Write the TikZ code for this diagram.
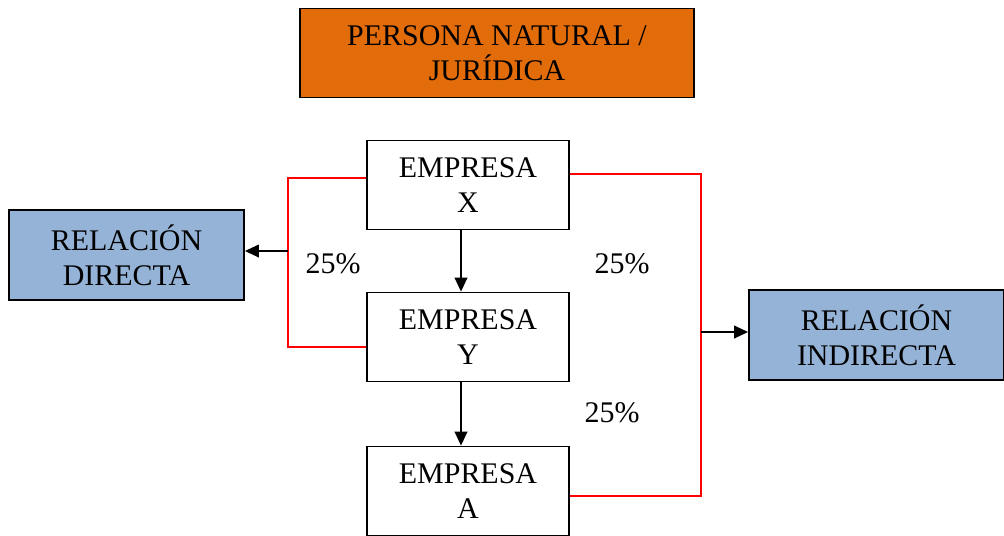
\documentclass[tikz,border=0pt]{standalone}
\usepackage{fontspec}
\setmainfont{Liberation Serif}
\definecolor{naranja}{RGB}{226,107,10}
\definecolor{azulrel}{RGB}{149,179,215}
\definecolor{rojolin}{RGB}{255,0,0}
\usetikzlibrary{arrows.meta,positioning}

\begin{document}
\begin{tikzpicture}[x=0.025cm,y=-0.025cm,
  every node/.style={font=\fontsize{21.3}{25}\selectfont,align=center},
  caja/.style={draw,line width=1.3pt,minimum width=5.05cm,minimum height=2.225cm,inner sep=0pt},
  relbox/.style={draw,line width=1.3pt,fill=azulrel,minimum height=2.25cm,inner sep=0pt},
  rojo/.style={draw=rojolin,line width=1pt},
  flecha/.style={line width=1pt,-{Triangle[length=0.35cm,width=0.32cm]}}]
  \useasboundingbox (0,0) rectangle (1004,535);
  % Top box
  \node[draw,line width=1.3pt,fill=naranja,minimum width=9.85cm,minimum height=2.225cm] (persona) at (497,53) {PERSONA NATURAL /\\JURÍDICA};
  % Companies
  \node[caja] (empx) at (468,185) {EMPRESA\\X};
  \node[caja] (empy) at (468,337) {EMPRESA\\Y};
  \node[caja] (empa) at (468,491) {EMPRESA\\A};
  % Relation boxes
  \node[relbox,minimum width=5.875cm] (directa) at (126.5,255) {RELACIÓN\\DIRECTA};
  \node[relbox,minimum width=6.375cm] (indirecta) at (876.5,335) {RELACIÓN\\INDIRECTA};
  % Bend points of the red lines
  \coordinate (ltop) at (288,178);
  \coordinate (lmid) at (288,251);
  \coordinate (lbot) at (288,347);
  \coordinate (rtop) at (701,174);
  \coordinate (rmid) at (701,332);
  \coordinate (rbot) at (701,496);
  \draw[rojo] (empx.west |- ltop) -- (ltop) -- (lbot) -- (empy.west |- lbot);
  \draw[rojo] (empx.east |- rtop) -- (rtop) -- (rbot) -- (empa.east |- rbot);
  % Arrows
  \draw[flecha] (lmid) -- (directa.east |- lmid);
  \draw[flecha] (rmid) -- (indirecta.west |- rmid);
  \draw[flecha] ([xshift=-0.175cm]empx.south) -- ([xshift=-0.175cm]empy.north);
  \draw[flecha] ([xshift=-0.175cm]empy.south) -- ([xshift=-0.175cm]empa.north);
  % Percentages
  \node (pa) at (333,264) {25\%};
  \node (pb) at (622,264) {25\%};
  \node (pc) at (612,413) {25\%};
\end{tikzpicture}
\end{document}
